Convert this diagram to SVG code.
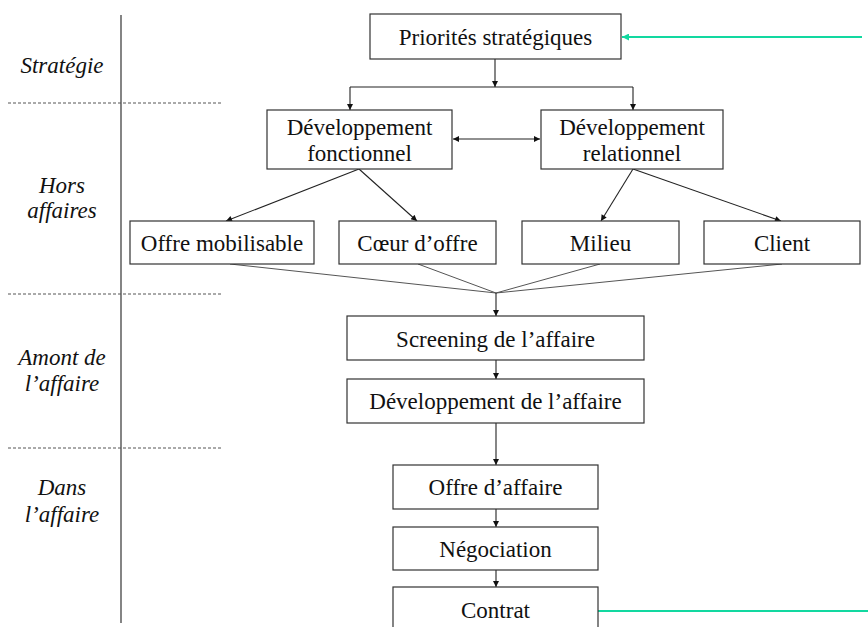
<svg xmlns="http://www.w3.org/2000/svg" width="868" height="627" viewBox="0 0 868 627">
<style>
.box{fill:#fff;stroke:#333;stroke-width:1.2}
.t{font-size:23px;fill:#111;text-anchor:middle}
.lab{font-size:23px;font-style:italic;fill:#111;text-anchor:middle}
.c{stroke:#222;stroke-width:1.1;fill:none}
.g{stroke:#555;stroke-width:1;fill:none}
.arr{stroke:#222;stroke-width:1.1;fill:none;marker-end:url(#ah)}
.dash{stroke:#555;stroke-width:1;stroke-dasharray:3,2;fill:none}
.green{stroke:#12d8a0;stroke-width:1.8;fill:none}
</style>
<defs>
<marker id="ah" viewBox="0 0 10 10" refX="10" refY="5" markerWidth="7" markerHeight="6" markerUnits="userSpaceOnUse" orient="auto">
<path d="M0,0 L10,5 L0,10 z" fill="#111"/>
</marker>
<marker id="ahs" viewBox="0 0 10 10" refX="10" refY="5" markerWidth="7" markerHeight="6" markerUnits="userSpaceOnUse" orient="auto-start-reverse">
<path d="M0,0 L10,5 L0,10 z" fill="#111"/>
</marker>
<marker id="ag" viewBox="0 0 10 10" refX="10" refY="5" markerWidth="8" markerHeight="7" markerUnits="userSpaceOnUse" orient="auto">
<path d="M0,0 L10,5 L0,10 z" fill="#12d8a0"/>
</marker>
</defs>
<g font-family="'Liberation Serif', 'Times New Roman', serif">
<g id="lanes">
<line x1="121" y1="15" x2="121" y2="623" stroke="#333" stroke-width="1.2"/>
<line class="dash" x1="8" y1="103" x2="223" y2="103"/>
<line class="dash" x1="8" y1="294" x2="223" y2="294"/>
<line class="dash" x1="8" y1="448" x2="223" y2="448"/>
<text class="lab" x="62" y="73">Stratégie</text>
<text class="lab" x="62" y="193">Hors</text>
<text class="lab" x="62" y="218">affaires</text>
<text class="lab" x="62" y="365">Amont de</text>
<text class="lab" x="62" y="391">l’affaire</text>
<text class="lab" x="62" y="495">Dans</text>
<text class="lab" x="62" y="522">l’affaire</text>
</g>

<g id="connectors">
<line class="green" x1="862" y1="37" x2="622" y2="37" marker-end="url(#ag)"/>
<line class="green" x1="598" y1="611" x2="868" y2="611"/>
<line class="arr" x1="495" y1="59" x2="495" y2="87"/>
<line class="c" x1="350" y1="87" x2="633" y2="87"/>
<line class="arr" x1="350" y1="87" x2="350" y2="110"/>
<line class="arr" x1="633" y1="87" x2="633" y2="110"/>
<line class="c" x1="453" y1="139" x2="540" y2="139" marker-start="url(#ahs)" marker-end="url(#ah)"/>
<line class="arr" x1="359" y1="169" x2="226" y2="221"/>
<line class="arr" x1="359" y1="169" x2="417" y2="221"/>
<line class="arr" x1="633" y1="169" x2="601" y2="221"/>
<line class="arr" x1="633" y1="169" x2="781" y2="221"/>
<line class="g" x1="230" y1="264" x2="496" y2="293"/>
<line class="g" x1="418" y1="264" x2="496" y2="293"/>
<line class="g" x1="600" y1="264" x2="496" y2="293"/>
<line class="g" x1="782" y1="264" x2="496" y2="293"/>
<line class="arr" x1="496" y1="293" x2="496" y2="316"/>
<line class="arr" x1="496" y1="360" x2="496" y2="379"/>
<line class="arr" x1="496" y1="423" x2="496" y2="465"/>
<line class="arr" x1="496" y1="509" x2="496" y2="527"/>
<line class="arr" x1="496" y1="570" x2="496" y2="587"/>
</g>

<g id="priorites">
<rect class="box" x="370" y="14" width="251" height="45"/>
<text class="t" x="495.5" y="45">Priorités stratégiques</text>
</g>
<g id="dev-fonctionnel">
<rect class="box" x="267" y="110" width="185" height="59"/>
<text class="t" x="359.5" y="135">Développement</text>
<text class="t" x="359.5" y="161">fonctionnel</text>
</g>
<g id="dev-relationnel">
<rect class="box" x="541" y="110" width="182" height="59"/>
<text class="t" x="632" y="135">Développement</text>
<text class="t" x="632" y="161">relationnel</text>
</g>
<g id="offre-mobilisable">
<rect class="box" x="130" y="221" width="184" height="43"/>
<text class="t" x="222" y="251">Offre mobilisable</text>
</g>
<g id="coeur-offre">
<rect class="box" x="339" y="221" width="157" height="43"/>
<text class="t" x="417.5" y="251">Cœur d’offre</text>
</g>
<g id="milieu">
<rect class="box" x="522" y="221" width="157" height="43"/>
<text class="t" x="600.5" y="251">Milieu</text>
</g>
<g id="client">
<rect class="box" x="704" y="221" width="156" height="43"/>
<text class="t" x="782" y="251">Client</text>
</g>
<g id="screening">
<rect class="box" x="347" y="316" width="297" height="44"/>
<text class="t" x="495.5" y="347">Screening de l’affaire</text>
</g>
<g id="dev-affaire">
<rect class="box" x="347" y="379" width="297" height="44"/>
<text class="t" x="495.5" y="409">Développement de l’affaire</text>
</g>
<g id="offre-affaire">
<rect class="box" x="393" y="465" width="205" height="44"/>
<text class="t" x="495.5" y="495">Offre d’affaire</text>
</g>
<g id="negociation">
<rect class="box" x="393" y="527" width="205" height="43"/>
<text class="t" x="495.5" y="557">Négociation</text>
</g>
<g id="contrat">
<rect class="box" x="393" y="587" width="205" height="50"/>
<text class="t" x="495.5" y="618">Contrat</text>
</g>
</g>
</svg>
